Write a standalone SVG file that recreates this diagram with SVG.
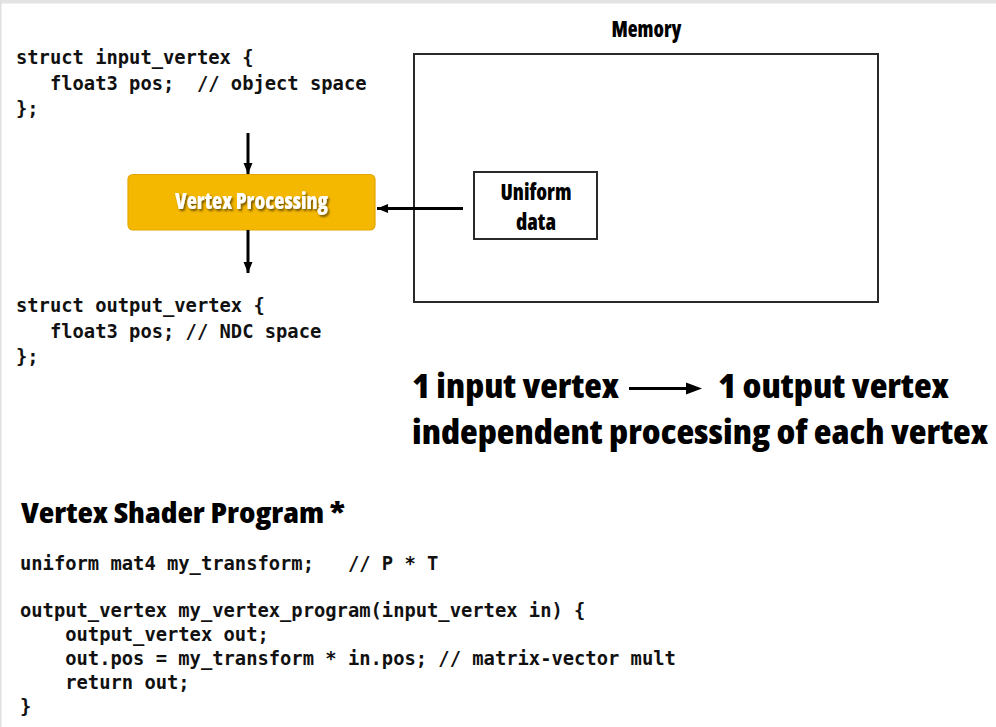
<svg xmlns="http://www.w3.org/2000/svg" width="996" height="727" viewBox="0 0 996 727">
  <style>
    .code { font-family: "DejaVu Sans Mono", "Liberation Mono", monospace; font-size: 18.8px; font-weight: bold; fill: #111; white-space: pre; }
    .head { font-family: "Open Sans", "Roboto", "Liberation Sans", sans-serif; font-weight: 800; font-stretch: condensed; fill: #000; }
    .edge { stroke: #000; stroke-width: 3; fill: none; }
    .frame { fill: #fff; stroke: #2a2a2a; stroke-width: 2; }
  </style>
  <defs>
    <marker id="tip" markerUnits="userSpaceOnUse" markerWidth="12" markerHeight="12" viewBox="0 0 12 12" refX="11" refY="6" orient="auto">
      <path d="M0,1.5 L11,6 L0,10.5 Z" fill="#000"/>
    </marker>
    <filter id="glow" x="-10%" y="-30%" width="130%" height="170%">
      <feDropShadow dx="1.5" dy="2" stdDeviation="1.2" flood-color="#000" flood-opacity="0.55"/>
    </filter>
  </defs>

  <!-- page background and thin slide edges -->
  <rect x="0" y="0" width="996" height="727" fill="#fff"/>
  <rect x="0" y="0" width="996" height="3.5" fill="#e3e3e3"/>
  <rect x="0" y="0" width="1.5" height="727" fill="#e0e0e0"/>

  <!-- input vertex struct -->
  <g id="input-struct">
    <text class="code" x="16" y="64">struct input_vertex {</text>
    <text class="code" x="16" y="90">   float3 pos;  // object space</text>
    <text class="code" x="16" y="115">};</text>
  </g>

  <!-- memory region -->
  <g id="memory">
    <text class="head" x="646.5" y="37" font-size="22" text-anchor="middle" textLength="70" lengthAdjust="spacingAndGlyphs">Memory</text>
    <rect class="frame" x="414" y="54" width="464" height="248"/>
  </g>

  <!-- uniform data block inside memory -->
  <g id="uniform-data">
    <rect class="frame" x="474" y="172" width="123" height="67"/>
    <text class="head" x="536" y="200" font-size="23" text-anchor="middle" textLength="71" lengthAdjust="spacingAndGlyphs">Uniform</text>
    <text class="head" x="536" y="230" font-size="23" text-anchor="middle" textLength="40" lengthAdjust="spacingAndGlyphs">data</text>
  </g>

  <!-- vertex processing stage -->
  <g id="vertex-processing">
    <rect x="128" y="174.5" width="247" height="55.5" rx="5" fill="#f5b800" stroke="#e3a600" stroke-width="1.2"/>
    <text class="head" x="251.5" y="208.5" font-size="23" text-anchor="middle" style="fill:#fff" filter="url(#glow)" textLength="153" lengthAdjust="spacingAndGlyphs">Vertex Processing</text>
  </g>

  <!-- output vertex struct -->
  <g id="output-struct">
    <text class="code" x="16" y="312">struct output_vertex {</text>
    <text class="code" x="16" y="338">   float3 pos; // NDC space</text>
    <text class="code" x="16" y="363">};</text>
  </g>

  <!-- connectors -->
  <g id="connectors">
    <line class="edge" x1="248" y1="133" x2="248" y2="174" marker-end="url(#tip)"/>
    <line class="edge" x1="248" y1="230" x2="248" y2="273" marker-end="url(#tip)"/>
    <line class="edge" x1="463" y1="208.5" x2="377" y2="208.5" marker-end="url(#tip)"/>
  </g>

  <!-- summary statement -->
  <g id="summary">
    <text class="head" x="412" y="398" font-size="34" textLength="207" lengthAdjust="spacingAndGlyphs">1 input vertex</text>
    <line x1="629" y1="388.5" x2="690" y2="388.5" stroke="#000" stroke-width="3.2"/>
    <path d="M686,382.5 L702,388.5 L686,394.5 Z" fill="#000"/>
    <text class="head" x="718" y="398" font-size="34" textLength="231" lengthAdjust="spacingAndGlyphs">1 output vertex</text>
    <text class="head" x="412" y="444" font-size="34" textLength="576" lengthAdjust="spacingAndGlyphs">independent processing of each vertex</text>
  </g>

  <!-- shader program listing -->
  <g id="shader-program">
    <text class="head" x="21" y="523" font-size="29" textLength="324" lengthAdjust="spacingAndGlyphs">Vertex Shader Program *</text>
    <text class="code" x="20" y="570">uniform mat4 my_transform;   // P * T</text>
    <text class="code" x="20" y="617">output_vertex my_vertex_program(input_vertex in) {</text>
    <text class="code" x="20" y="641">    output_vertex out;</text>
    <text class="code" x="20" y="665">    out.pos = my_transform * in.pos; // matrix-vector mult</text>
    <text class="code" x="20" y="689">    return out;</text>
    <text class="code" x="20" y="713">}</text>
  </g>
</svg>
